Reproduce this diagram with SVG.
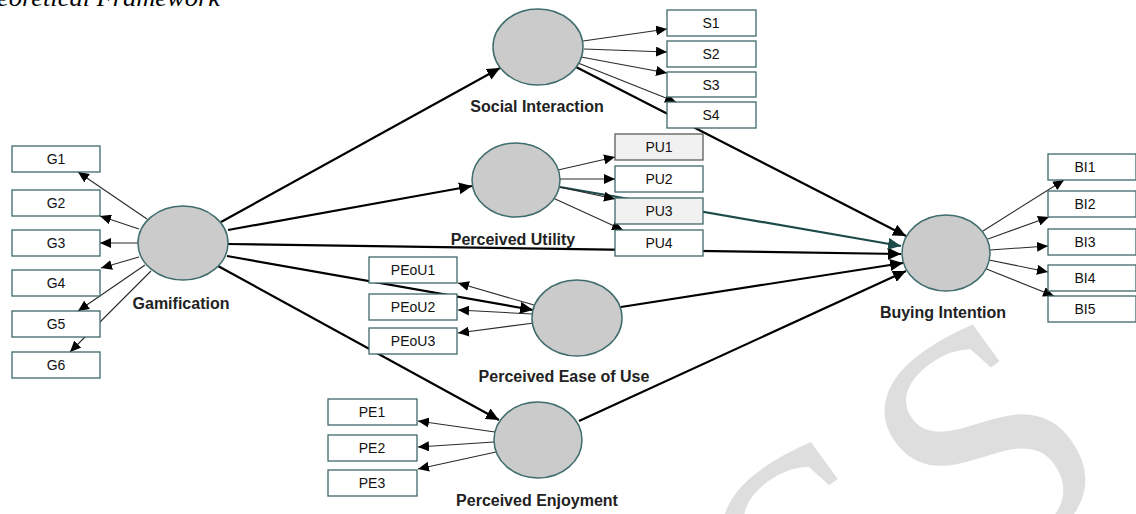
<svg xmlns="http://www.w3.org/2000/svg" width="1136" height="514" viewBox="0 0 1136 514">
<style>
.box{fill:#fff;stroke:#3d6868;stroke-width:1.3}
.boxg{fill:#f1f1f1;stroke:#3d6868;stroke-width:1.3}
.boxd{fill:#f1f1f1;stroke:#5c5c5c;stroke-width:1.3}
.lv{fill:#cbcbcb;stroke:#3f6c6c;stroke-width:1.5}
.bt{font-family:"Liberation Sans",Arial,sans-serif;font-size:14px;text-anchor:middle;fill:#111}
.lt{font-family:"Liberation Sans",Arial,sans-serif;font-size:16px;font-weight:bold;text-anchor:middle;fill:#222}
.ind{stroke:#2a2a2a;stroke-width:1.1;fill:none;marker-end:url(#ah)}
.str{stroke:#000;stroke-width:2.2;fill:none;marker-end:url(#ahb)}
.tea{stroke:#1d4a4a;stroke-width:2.2;fill:none;marker-end:url(#aht)}
.wm{font-family:"Liberation Serif",serif;font-size:335px;fill:#dedede;text-anchor:middle}
.ttl{font-family:"Liberation Serif",serif;font-style:italic;font-size:24px;fill:#000}
</style>
<defs>
<marker id="ah" markerUnits="userSpaceOnUse" markerWidth="12" markerHeight="10" refX="11" refY="5" orient="auto"><path d="M0,0 L11,5 L0,10 Z" fill="#000"/></marker>
<marker id="ahb" markerUnits="userSpaceOnUse" markerWidth="14" markerHeight="12" refX="13" refY="6" orient="auto"><path d="M0,0 L13,6 L0,12 Z" fill="#000"/></marker>
<marker id="aht" markerUnits="userSpaceOnUse" markerWidth="14" markerHeight="12" refX="13" refY="6" orient="auto"><path d="M0,0 L13,6 L0,12 Z" fill="#1d4a4a"/></marker>
</defs>
<g id="watermark">
<text class="wm" transform="translate(985,445) rotate(-36)" x="0" y="110">S</text>
<text class="wm" transform="translate(985,445) rotate(-36)" x="-200" y="110">S</text>
</g>
<text class="ttl" x="-3" y="6" textLength="223" lengthAdjust="spacingAndGlyphs">eoretical Framework</text>
<g id="connectors">
<line class="str" x1="221" y1="222" x2="500" y2="68"/>
<line class="str" x1="228" y1="230" x2="472" y2="186"/>
<line class="str" x1="228" y1="244" x2="901" y2="254"/>
<line class="str" x1="227" y1="256" x2="533" y2="310"/>
<line class="str" x1="218" y1="266" x2="499" y2="420"/>
<line class="str" x1="576" y1="67" x2="906" y2="236"/>
<line class="tea" x1="560" y1="187" x2="901" y2="246"/>
<line class="str" x1="621" y1="307" x2="903" y2="263"/>
<line class="str" x1="579" y1="421" x2="906" y2="271"/>
<line class="ind" x1="147" y1="219" x2="78" y2="172"/>
<line class="ind" x1="139" y1="229" x2="100" y2="216"/>
<line class="ind" x1="138" y1="243" x2="100" y2="243"/>
<line class="ind" x1="139" y1="257" x2="101" y2="268"/>
<line class="ind" x1="145" y1="265" x2="78" y2="311"/>
<line class="ind" x1="151" y1="271" x2="70" y2="352"/>
<line class="ind" x1="583" y1="41" x2="667" y2="29"/>
<line class="ind" x1="584" y1="49" x2="667" y2="52"/>
<line class="ind" x1="581" y1="57" x2="667" y2="73"/>
<line class="ind" x1="578" y1="63" x2="676" y2="102"/>
<line class="ind" x1="558" y1="170" x2="615" y2="157"/>
<line class="ind" x1="560" y1="179" x2="615" y2="179"/>
<line class="ind" x1="559" y1="187" x2="615" y2="199"/>
<line class="ind" x1="553" y1="198" x2="623" y2="230"/>
<line class="ind" x1="534" y1="305" x2="458" y2="283"/>
<line class="ind" x1="532" y1="314" x2="458" y2="310"/>
<line class="ind" x1="534" y1="323" x2="458" y2="333"/>
<line class="ind" x1="495" y1="432" x2="418" y2="421"/>
<line class="ind" x1="494" y1="442" x2="418" y2="447"/>
<line class="ind" x1="496" y1="452" x2="418" y2="469"/>
<line class="ind" x1="983" y1="231" x2="1064" y2="180"/>
<line class="ind" x1="988" y1="239" x2="1049" y2="217"/>
<line class="ind" x1="990" y1="250" x2="1048" y2="246"/>
<line class="ind" x1="989" y1="260" x2="1048" y2="272"/>
<line class="ind" x1="984" y1="268" x2="1054" y2="296"/>
</g>
<g id="Gamification"><ellipse class="lv" cx="183" cy="243" rx="45" ry="37"/><text class="lt" x="181" y="309">Gamification</text></g>
<g id="G1"><rect class="box" x="12" y="146" width="88" height="26"/><text class="bt" x="56" y="164">G1</text></g>
<g id="G2"><rect class="box" x="12" y="190" width="88" height="26"/><text class="bt" x="56" y="208">G2</text></g>
<g id="G3"><rect class="box" x="12" y="230" width="88" height="26"/><text class="bt" x="56" y="248">G3</text></g>
<g id="G4"><rect class="box" x="12" y="270" width="88" height="26"/><text class="bt" x="56" y="288">G4</text></g>
<g id="G5"><rect class="box" x="12" y="311" width="88" height="26"/><text class="bt" x="56" y="329">G5</text></g>
<g id="G6"><rect class="box" x="12" y="352" width="88" height="26"/><text class="bt" x="56" y="370">G6</text></g>
<g id="SocialInteraction"><ellipse class="lv" cx="538" cy="47" rx="45" ry="38"/><text class="lt" x="537" y="112">Social Interaction</text></g>
<g id="S1"><rect class="box" x="667" y="10" width="89" height="26"/><text class="bt" x="711" y="28">S1</text></g>
<g id="S2"><rect class="box" x="667" y="41" width="89" height="26"/><text class="bt" x="711" y="59">S2</text></g>
<g id="S3"><rect class="box" x="667" y="72" width="89" height="25"/><text class="bt" x="711" y="90">S3</text></g>
<g id="S4"><rect class="box" x="667" y="102" width="89" height="26"/><text class="bt" x="711" y="120">S4</text></g>
<g id="PerceivedUtility"><ellipse class="lv" cx="516" cy="180" rx="44" ry="37"/><text class="lt" x="513" y="245">Perceived Utility</text></g>
<g id="PU1"><rect class="boxd" x="615" y="134" width="88" height="26"/><text class="bt" x="659" y="152">PU1</text></g>
<g id="PU2"><rect class="box" x="615" y="166" width="88" height="26"/><text class="bt" x="659" y="184">PU2</text></g>
<g id="PU3"><rect class="boxg" x="615" y="198" width="88" height="26"/><text class="bt" x="659" y="216">PU3</text></g>
<g id="PU4"><rect class="box" x="615" y="230" width="88" height="26"/><text class="bt" x="659" y="248">PU4</text></g>
<g id="PerceivedEaseOfUse"><ellipse class="lv" cx="577" cy="318" rx="45" ry="38"/><text class="lt" x="564" y="382">Perceived Ease of Use</text></g>
<g id="PEoU1"><rect class="box" x="369" y="257" width="88" height="26"/><text class="bt" x="413" y="275">PEoU1</text></g>
<g id="PEoU2"><rect class="box" x="369" y="294" width="88" height="26"/><text class="bt" x="413" y="312">PEoU2</text></g>
<g id="PEoU3"><rect class="box" x="369" y="328" width="88" height="26"/><text class="bt" x="413" y="346">PEoU3</text></g>
<g id="PerceivedEnjoyment"><ellipse class="lv" cx="538" cy="440" rx="44" ry="38"/><text class="lt" x="537" y="506">Perceived Enjoyment</text></g>
<g id="PE1"><rect class="box" x="328" y="399" width="89" height="26"/><text class="bt" x="372" y="417">PE1</text></g>
<g id="PE2"><rect class="box" x="328" y="435" width="89" height="26"/><text class="bt" x="372" y="453">PE2</text></g>
<g id="PE3"><rect class="box" x="328" y="470" width="89" height="26"/><text class="bt" x="372" y="488">PE3</text></g>
<g id="BuyingIntention"><ellipse class="lv" cx="946" cy="253" rx="44" ry="38"/><text class="lt" x="943" y="318">Buying Intention</text></g>
<g id="BI1"><rect class="box" x="1048" y="154" width="88" height="26"/><text class="bt" x="1085" y="172">BI1</text></g>
<g id="BI2"><rect class="box" x="1048" y="191" width="88" height="26"/><text class="bt" x="1085" y="209">BI2</text></g>
<g id="BI3"><rect class="box" x="1048" y="229" width="88" height="26"/><text class="bt" x="1085" y="247">BI3</text></g>
<g id="BI4"><rect class="box" x="1048" y="265" width="88" height="26"/><text class="bt" x="1085" y="283">BI4</text></g>
<g id="BI5"><rect class="box" x="1048" y="296" width="88" height="26"/><text class="bt" x="1085" y="314">BI5</text></g>
</svg>
